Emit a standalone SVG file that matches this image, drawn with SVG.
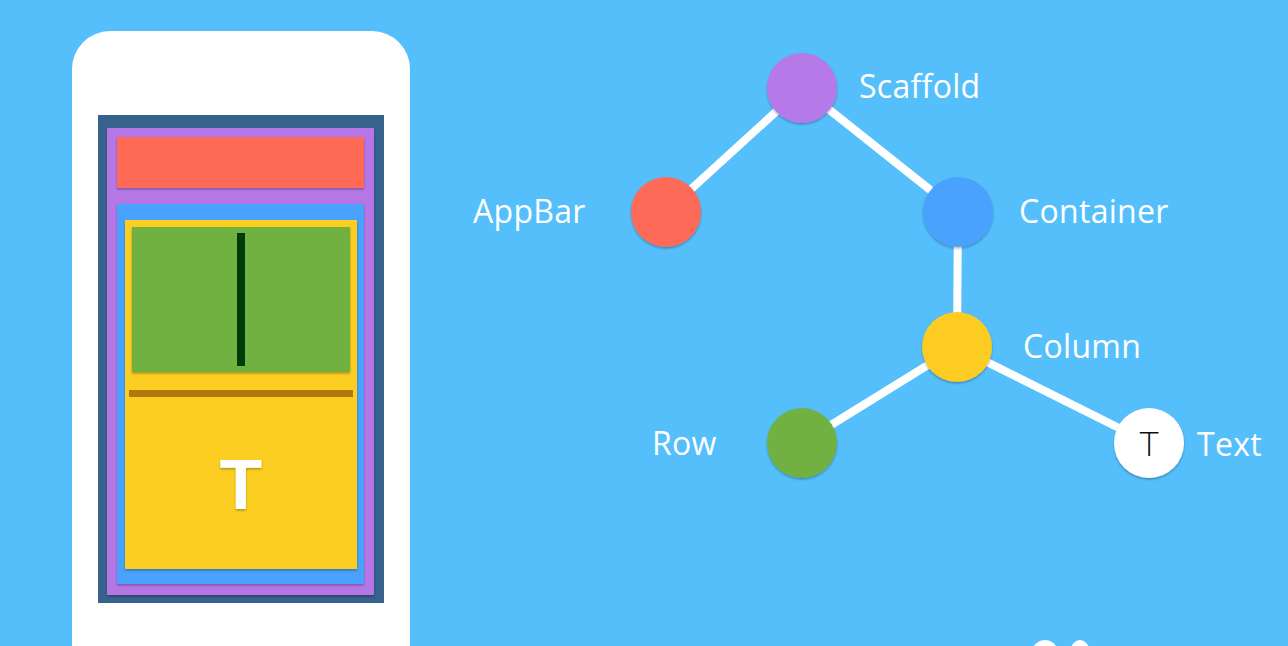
<svg xmlns="http://www.w3.org/2000/svg" width="1288" height="646" viewBox="0 0 1288 646">
<defs>
<style>
.lbl{font-family:"Open Sans",Lato,"Liberation Sans",sans-serif;font-size:32px;letter-spacing:0.3px;fill:#ffffff;}
.edge{stroke:#ffffff;stroke-width:8;fill:none;}
.blk{filter:url(#sh);}
</style>
<filter id="sh" x="-20%" y="-20%" width="140%" height="140%">
<feDropShadow dx="0" dy="1.5" stdDeviation="1" flood-color="#000" flood-opacity="0.3"/>
</filter>
</defs>
<rect width="1288" height="646" fill="#55bffb"/>
<g id="phone">
<rect x="72" y="31" width="338" height="660" rx="38" fill="#fefefe"/>
<rect x="98" y="115" width="286" height="488" fill="#37628e"/>
<rect class="blk" x="107" y="128" width="267" height="467" fill="#b576e6"/>
<rect class="blk" x="117" y="137" width="247" height="51" fill="#fe6a57"/>
<rect class="blk" x="117" y="204" width="247" height="380" fill="#48a2fd"/>
<rect class="blk" x="125" y="220" width="232" height="349" fill="#fcce22"/>
<rect class="blk" x="132" y="227" width="218" height="145" fill="#6fb143"/>
<rect x="237" y="233" width="8" height="133" fill="#003c0a"/>
<rect x="129" y="390" width="224" height="7" fill="#b0780f"/>
<text x="241" y="509" text-anchor="middle" style="font-family:'Liberation Sans',Arial,sans-serif;font-weight:bold;font-size:70px;fill:#ffffff;filter:url(#sh)">T</text>
</g>
<g id="connectors">
<line class="edge" x1="802" y1="88" x2="666" y2="212"/>
<line class="edge" x1="802" y1="88" x2="958" y2="212"/>
<line class="edge" x1="958" y1="212" x2="957" y2="347"/>
<line class="edge" x1="957" y1="347" x2="802" y2="443"/>
<line class="edge" x1="957" y1="347" x2="1149" y2="443"/>
</g>
<g id="scaffold">
<circle class="blk" cx="802" cy="88" r="35" fill="#b57ae8"/>
<text class="lbl" x="859" y="98">Scaffold</text>
</g>
<g id="appbar">
<circle class="blk" cx="666" cy="212" r="35" fill="#fe6b58"/>
<text class="lbl" x="473" y="223">AppBar</text>
</g>
<g id="container">
<circle class="blk" cx="958" cy="212" r="35" fill="#48a2fd"/>
<text class="lbl" x="1019" y="223">Container</text>
</g>
<g id="column">
<circle class="blk" cx="957" cy="347" r="35" fill="#fccc22"/>
<text class="lbl" x="1023" y="358">Column</text>
</g>
<g id="row">
<circle class="blk" cx="802" cy="443" r="35" fill="#6fb143"/>
<text class="lbl" x="652" y="455">Row</text>
</g>
<g id="textnode">
<circle class="blk" cx="1149" cy="443" r="35" fill="#ffffff"/>
<text x="1149" y="456" text-anchor="middle" style="font-family:Lato,'Liberation Sans',sans-serif;font-weight:300;font-size:34px;fill:#111">T</text>
<text class="lbl" x="1197" y="456">Text</text>
</g>
<g id="corner">
<ellipse cx="1045" cy="650" rx="12" ry="10" fill="#ffffff"/>
<ellipse cx="1080" cy="650" rx="9" ry="10" fill="#ffffff"/>
</g>
</svg>
